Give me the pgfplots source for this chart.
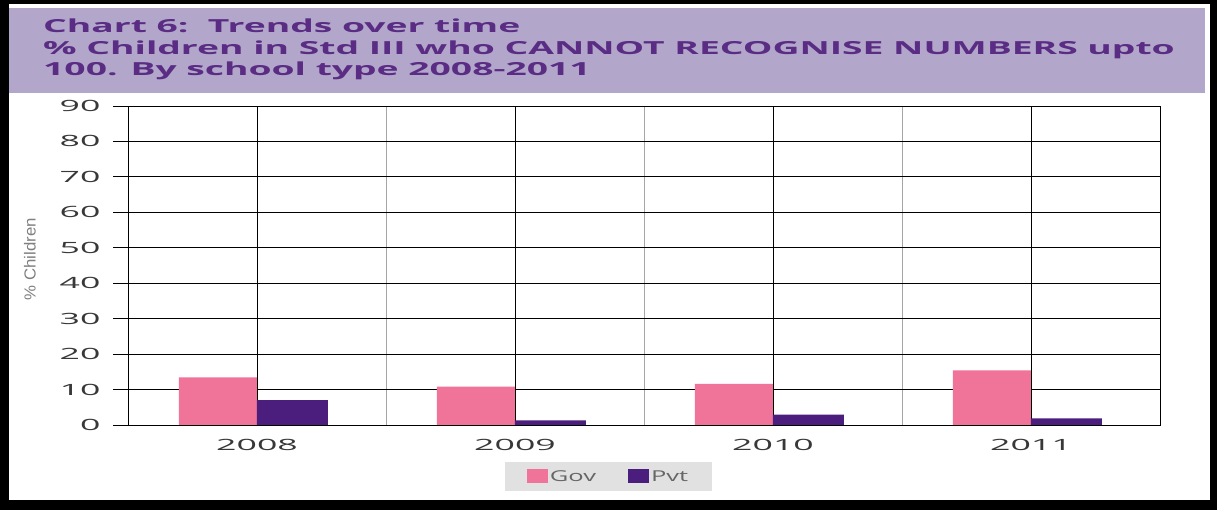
\documentclass[border=0pt]{standalone}
\usepackage{fontspec}
\usepackage{pgfplots}
\pgfplotsset{compat=1.18}
\setmainfont{Open Sans}
\newfontfamily\titlefont[FakeStretch=2.07]{Open Sans}
\newfontfamily\tickfont[FakeStretch=2.3]{Open Sans}
\newfontfamily\legfont[FakeStretch=1.7]{Open Sans}
\newfontfamily\labfont[FakeStretch=1.05]{Liberation Sans}

\definecolor{bandcol}{HTML}{B2A7CB}
\definecolor{titlecol}{HTML}{5A2C84}
\definecolor{govcol}{HTML}{F07399}
\definecolor{pvtcol}{HTML}{4B1E7D}
\definecolor{tickcol}{HTML}{383838}
\definecolor{legbg}{HTML}{E1E1E1}

\begin{document}
\begin{tikzpicture}[x=1bp,y=1bp]
  % frame and title band
  \fill[black] (0,0) rectangle (1217,510);
  \fill[white] (9,10) rectangle (1210,506);
  \fill[bandcol] (9,417) rectangle (1205,502);
  \node[anchor=base west,inner sep=0,text=titlecol,font={\titlefont\bfseries\fontsize{18bp}{20bp}\selectfont}] at (43,477) {Chart 6:\ \ Trends over time};
  \node[anchor=base west,inner sep=0,text=titlecol,font={\titlefont\bfseries\fontsize{18bp}{20bp}\selectfont}] at (43,455) {\% Children in Std III who CANNOT RECOGNISE NUMBERS upto};
  \node[anchor=base west,inner sep=0,text=titlecol,font={\titlefont\bfseries\fontsize{18bp}{20bp}\selectfont}] at (43,434) {100. By school type 2008-2011};

  \begin{axis}[
    at={(128bp,85bp)}, anchor=south west,
    scale only axis, width=1032bp, height=319bp,
    xmin=-0.5, xmax=3.5, ymin=0, ymax=90,
    xtick={0,1,2,3}, xticklabels={2008,2009,2010,2011},
    minor xtick={0.5,1.5,2.5},
    ytick={0,10,...,90},
    /pgf/number format/assume math mode=true,
    xmajorgrids, xminorgrids, ymajorgrids,
    major grid style={black, line width=0.8bp},
    minor grid style={gray!70, line width=0.8bp},
    axis line style={black, line width=0.9bp},
    tick align=outside, ytick pos=left, xtick pos=bottom,
    major tick length=15bp, minor tick length=0bp,
    xtick style={draw=none},
    ytick style={black, line width=0.8bp},
    ticklabel style={font={\tickfont\fontsize{15.5bp}{17bp}\selectfont}, text=tickcol},
    yticklabel style={xshift=-9bp},
    xticklabel style={yshift=4bp},
    ylabel={\labfont\fontsize{16bp}{18bp}\selectfont \% Children},
    ylabel style={at={(axis description cs:-0.095,0.52)}, anchor=center, text=gray},
    ybar, bar width=75bp,
    legend columns=2,
    legend style={at={(axis description cs:0.4656,-0.1614)}, anchor=center,
      fill=legbg, draw=none, text=gray!80!black,
      font={\legfont\fontsize{15bp}{17bp}\selectfont},
      inner xsep=22bp, inner ysep=6bp,
      /tikz/every even column/.append style={column sep=30bp}},
    legend image code/.code={\fill[#1] (0bp,-7bp) rectangle (21bp,7bp);},
  ]
    \addplot[fill=govcol, draw=none, bar width=78bp, bar shift=-39bp]
      coordinates {(0,13.4) (1,10.8) (2,11.6) (3,15.4)};
    \addplot[fill=pvtcol, draw=none, bar width=71bp, bar shift=35.5bp]
      coordinates {(0,7.0) (1,1.3) (2,2.9) (3,1.9)};
    \legend{Gov,Pvt}
  \end{axis}
\end{tikzpicture}
\end{document}
